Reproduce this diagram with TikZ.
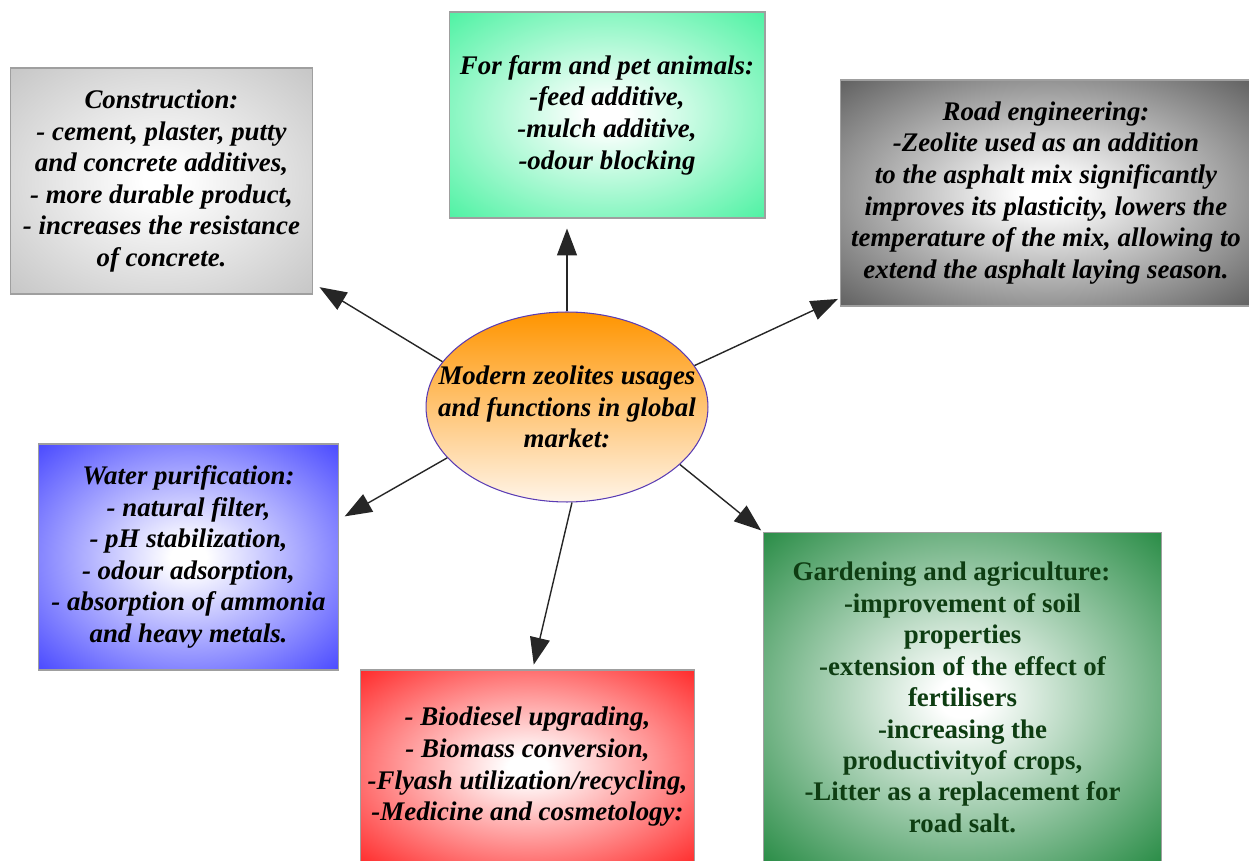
\documentclass[tikz,border=0pt]{standalone}
\usepackage{fontspec}
\setmainfont{Liberation Serif}
\usetikzlibrary{arrows.meta,shapes.geometric}
\definecolor{constrgray}{HTML}{BEBEBE}
\definecolor{farmgreen}{HTML}{35F096}
\definecolor{roadgray}{HTML}{4A4A4A}
\definecolor{waterblue}{HTML}{3030FF}
\definecolor{biored}{HTML}{FF0D0D}
\definecolor{gardengreen}{HTML}{0B7C2C}
\definecolor{gardentext}{HTML}{0E3D12}
\definecolor{zeoorange}{HTML}{FF9500}
\definecolor{zeolight}{HTML}{FFF4E8}
\definecolor{zeoedge}{HTML}{5A3CB4}
\colorlet{glowedge}{gray}
\pgfdeclareradialshading[glowedge]{boxglow}{\pgfpoint{0bp}{0bp}}{color(0bp)=(white); color(3bp)=(white); color(40bp)=(glowedge); color(50bp)=(glowedge)}

\begin{document}
\begin{tikzpicture}[x=0.02cm,y=-0.02cm,
    usebox/.style={draw=gray!75,line width=0.6pt,shading=boxglow,
        /utils/exec={\colorlet{glowedge}{#1}},
        inner sep=0pt,align=center,
        font=\fontsize{15.3}{18}\selectfont\bfseries\itshape},
    spoke/.style={line width=0.8pt,black!85,-{Triangle[length=5.4mm,width=4mm]}}]
			%%%%% START %%%%%
			\useasboundingbox (0,0) rectangle (1249,861);
			
			\node[ellipse,draw=zeoedge,line width=0.6pt,top color=zeoorange,bottom color=zeolight,
			      minimum width=5.64cm,minimum height=3.8cm,inner xsep=-0.62cm,inner ysep=0pt,align=center,
			      font=\fontsize{15.3}{18}\selectfont\bfseries\itshape] (zeo) at (567,407)
			      {Modern zeolites usages\\and functions in global\\market:};
			
			\node[usebox=constrgray,minimum width=6.06cm,minimum height=4.52cm] (constr) at (161.5,181)
			      {Construction:\\- cement, plaster, putty\\and concrete additives,\\- more durable product,\\- increases the resistance\\of concrete.};
			\node[usebox=farmgreen,minimum width=6.32cm,minimum height=4.12cm] (farm) at (607,115)
			      {For farm and pet animals:\\-feed additive,\\-mulch additive,\\-odour blocking};
			\node[usebox=roadgray,minimum width=8.24cm,minimum height=4.52cm] (road) at (1046,193)
			      {Road engineering:\\-Zeolite used as an addition\\to the asphalt mix significantly\\improves its plasticity, lowers the\\temperature of the mix, allowing to\\extend the asphalt laying season.};
			\node[usebox=waterblue,minimum width=6.02cm,minimum height=4.52cm] (water) at (188.5,557)
			      {Water purification:\\- natural filter,\\- pH stabilization,\\- odour adsorption,\\- absorption of ammonia\\and heavy metals.};
			\node[usebox=biored,minimum width=6.7cm,minimum height=3.88cm] (bio) at (527.5,767)
			      {- Biodiesel upgrading,\\- Biomass conversion,\\-Flyash utilization/recycling,\\-Medicine and cosmetology:};
			\node[usebox=gardengreen,minimum width=7.98cm,minimum height=6.62cm,
			      font=\fontsize{15.3}{17.9}\selectfont\bfseries,text=gardentext] (garden) at (962.5,697.5)
			      {Gardening and agriculture:\hspace*{0.44cm}\\-improvement of soil\\properties\\-extension of the effect of\\fertilisers\\-increasing the\\productivityof crops,\\-Litter as a replacement for\\road salt.};
			
			% arrows out of the ellipse
			\draw[spoke,shorten >=0.14cm] (zeo.160) -- (constr.-34);
			\draw[spoke,shorten >=0.2cm] (zeo.north) -- (zeo.north |- farm.south);
			\draw[spoke,shorten >=1pt] (zeo.18) -- (road.207);
			\draw[spoke,shorten >=0.12cm] (zeo.203.6) -- (water.14);
			\draw[spoke,shorten >=0.1cm] (zeo.-87) -- (bio.87.5);
			\draw[spoke,shorten >=1pt] (zeo.-27) -- (garden.north west);
			%%%%% END %%%%%
\end{tikzpicture}
\end{document}
